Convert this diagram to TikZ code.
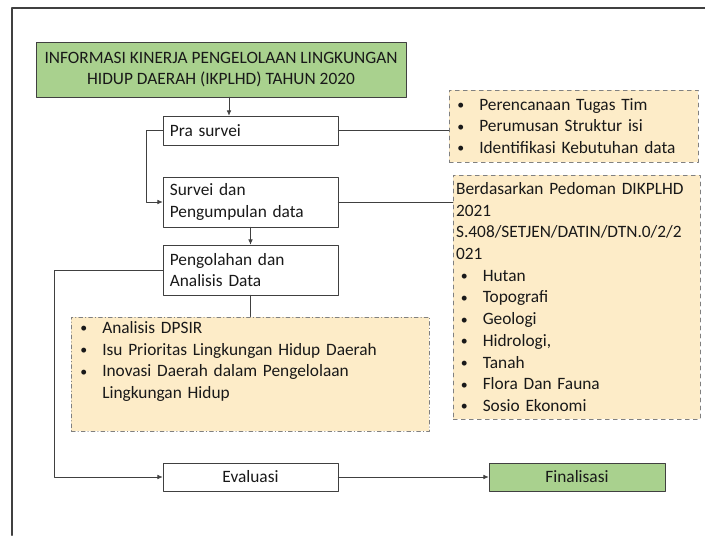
\documentclass[tikz,border=0pt]{standalone}
\usepackage{fontspec}
\setmainfont{Carlito}
\usetikzlibrary{arrows.meta}

\definecolor{titlegreen}{RGB}{169,209,142}
\definecolor{notefill}{RGB}{253,236,200}
\definecolor{framegray}{RGB}{64,64,64}
\definecolor{dashgray}{RGB}{128,128,128}
\newcommand{\bul}{\makebox[16.5pt][l]{\raisebox{0.5pt}{\scalebox{0.8}{\textbullet}}}}

\tikzset{
  txt/.style={font=\fontsize{13pt}{16.3pt}\selectfont, text=black!90},
  greenbox/.style={txt, draw=framegray, fill=titlegreen, align=center},
  stepbox/.style={txt, draw=framegray, fill=white, minimum width=131.25pt, text width=121pt, align=left, inner xsep=5pt},
  notebox/.style={txt, draw=dashgray, fill=notefill, dashed, align=left, inner xsep=0pt, anchor=west},
  conn/.style={draw=framegray, line width=0.6pt},
  flow/.style={conn, -{Latex[length=4pt,width=3.5pt]}}
}

\begin{document}
\begin{tikzpicture}[x=0.75pt,y=-0.75pt,line cap=round,line join=round]
            \useasboundingbox (0,0) rectangle (705,535);
            \draw[framegray, line width=1.5pt] (12,535) -- (12,8) -- (705,8);

            \node[greenbox, minimum width=277.5pt, minimum height=41.25pt] (title) at (221,69.5)
                {INFORMASI KINERJA PENGELOLAAN LINGKUNGAN\\HIDUP DAERAH (IKPLHD) TAHUN 2020};

            \node[stepbox, minimum height=21.75pt] (pra) at (250.5,130.5) {Pra survei};
            \node[stepbox, minimum height=37.5pt] (survei) at (250.5,202) {Survei dan\\Pengumpulan data};
            \node[stepbox, minimum height=37.5pt] (olah) at (250.5,270) {Pengolahan dan\\Analisis Data};
            \node[stepbox, minimum height=21pt, align=center] (evaluasi) at (250.5,477) {Evaluasi};
            \node[greenbox, minimum width=132pt, minimum height=21pt] (final) at (577,477) {Finalisasi};

            \node[notebox, minimum width=186.75pt, minimum height=54pt, text width=180.75pt, inner xsep=3pt] (prenote) at (449,126)
                {\hspace*{3pt}\bul Perencanaan Tugas Tim\\
                 \hspace*{3pt}\bul Perumusan Struktur isi\\
                 \hspace*{3pt}\bul Identifikasi Kebutuhan data};

            \node[notebox, minimum width=185.25pt, minimum height=183pt, text width=181pt, inner xsep=2pt] (datanote) at (453,297)
                {Berdasarkan Pedoman DIKPLHD\\
                 2021\\
                 S.408/SETJEN/DATIN/DTN.0/2/2\\
                 021\\
                 \hspace*{3.5pt}\bul Hutan\\
                 \hspace*{3.5pt}\bul Topografi\\
                 \hspace*{3.5pt}\bul Geologi\\
                 \hspace*{3.5pt}\bul Hidrologi,\\
                 \hspace*{3.5pt}\bul Tanah\\
                 \hspace*{3.5pt}\bul Flora Dan Fauna\\
                 \hspace*{3.5pt}\bul Sosio Ekonomi};

            \node[notebox, dash dot, minimum width=268.5pt, minimum height=85.5pt, text width=262pt, inner xsep=3.25pt] (olahnote) at (71,374)
                {\hspace*{3.5pt}\bul Analisis DPSIR\\
                 \hspace*{3.5pt}\bul Isu Prioritas Lingkungan Hidup Daerah\\
                 \hspace*{3.5pt}\bul Inovasi Daerah dalam Pengelolaan\\
                 \hspace*{20pt}Lingkungan Hidup\\
                 \strut};

            \coordinate (arrx) at (229,0);
            \coordinate (loopa) at (146,0);
            \coordinate (loopb) at (54,0);

            \draw[flow] (title.south -| arrx) -- (pra.north -| arrx);
            \draw[flow] (pra.west) -- (pra.west -| loopa) -- (survei.west -| loopa) -- (survei.west);
            \draw[flow] (survei.south) -- (olah.north);
            \draw[conn] (olah.south) -- (olahnote.north -| olah.south);
            \draw[flow] (olah.west) -- (olah.west -| loopb) -- (evaluasi.west -| loopb) -- (evaluasi.west);
            \draw[flow] (evaluasi.east) -- (final.west);
            \draw[conn] (pra.east) -- (pra.east -| prenote.west);
            \draw[conn] (survei.east) -- (survei.east -| datanote.west);
        \end{tikzpicture}
\end{document}
